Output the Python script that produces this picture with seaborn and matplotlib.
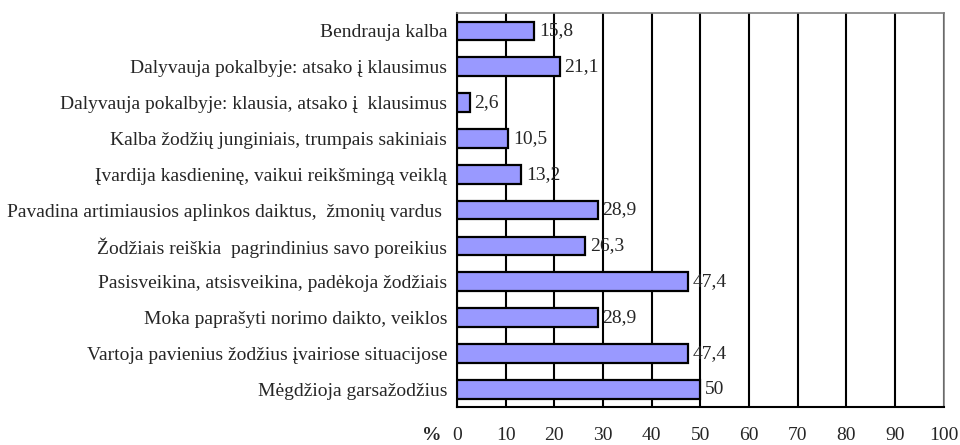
import numpy as np
import matplotlib.pyplot as plt
import seaborn as sns

categories = [
    'Bendrauja kalba',
    'Dalyvauja pokalbyje: atsako į klausimus',
    'Dalyvauja pokalbyje: klausia, atsako į  klausimus',
    'Kalba žodžių junginiais, trumpais sakiniais',
    'Įvardija kasdieninę, vaikui reikšmingą veiklą',
    'Pavadina artimiausios aplinkos daiktus,  žmonių vardus ',
    'Žodžiais reiškia  pagrindinius savo poreikius',
    'Pasisveikina, atsisveikina, padėkoja žodžiais',
    'Moka paprašyti norimo daikto, veiklos',
    'Vartoja pavienius žodžius įvairiose situacijose',
    'Mėgdžioja garsažodžius',
]
values = [15.8, 21.1, 2.6, 10.5, 13.2, 28.9, 26.3, 47.4, 28.9, 47.4, 50]
xticks = list(range(0, 101, 10))

sns.set_style('white')
plt.rcParams['font.family'] = ['Liberation Serif', 'DejaVu Serif']

fig, ax = plt.subplots(figsize=(9.6, 4.45), dpi=100)
fig.subplots_adjust(left=0.476, right=0.983, top=0.971, bottom=0.085)

ax.set_axisbelow(True)
ax.grid(axis='x', color='black', linewidth=1.5)
sns.barplot(x=values, y=categories, color='#9999FF', saturation=1,
            edgecolor='black', linewidth=1.6, width=0.52, ax=ax, zorder=3)

for i, v in enumerate(values):
    ax.text(v + 1, i, f'{v:g}'.replace('.', ','), va='center', ha='left',
            fontsize=14, zorder=4)

ax.set_xlim(0, 100)
ax.set_ylim(len(categories) - 0.5, -0.5)
ax.set_xticks(xticks)
ax.tick_params(axis='x', direction='inout', length=8, width=1.5, labelsize=14, pad=10)
ax.tick_params(axis='y', which='major', length=0, labelsize=14, pad=7)
ax.set_yticks(np.arange(-0.5, len(categories), 1), minor=True)
ax.tick_params(axis='y', which='minor', direction='inout', length=8, width=1.5)
ax.set_xlabel('')
ax.set_ylabel('')

for s in ['left', 'bottom']:
    ax.spines[s].set_color('black')
    ax.spines[s].set_linewidth(1.5)
for s in ['top', 'right']:
    ax.spines[s].set_color('#808080')
    ax.spines[s].set_linewidth(1.2)

fig.text(432 / 960, 9 / 445, '%', fontsize=14, fontweight='bold',
         ha='center', va='center')

fig.savefig('out.png', dpi=100)
